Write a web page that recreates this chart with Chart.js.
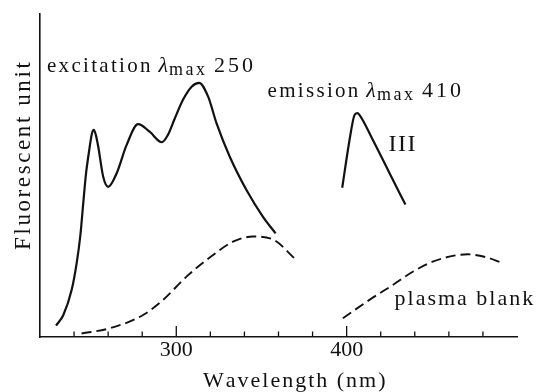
<!DOCTYPE html>
<html>
<head>
<meta charset="utf-8">
<script src="https://cdn.jsdelivr.net/npm/chart.js@4/dist/chart.umd.min.js"></script>
<style>
html, body { margin: 0; padding: 0; background: #fff; }
#wrap { width: 536px; height: 392px; }
</style>
</head>
<body>
<div id="wrap"><canvas id="spectra"></canvas></div>
<script>
'use strict';
// wavelength (nm) / relative intensity
const excX = [229.4, 233.7, 238.6, 241.5, 243.7, 245.4, 247.0, 248.8, 250.4, 251.6, 252.8, 254.2, 257.1, 260.0, 265.0, 270.8, 277.6, 284.5, 291.5, 295.0, 299.0, 304.0, 309.0, 313.4, 318.7, 323.6, 331.4, 341.2, 350.9, 358.3]
const excY = [3.5, 6.8, 14.6, 22.8, 31.5, 41.5, 50.5, 57.5, 62.8, 64.1, 62.5, 58.9, 49.6, 46.5, 50.7, 59.4, 65.9, 63.5, 60.3, 62.5, 67.5, 73.5, 77.5, 78.7, 74.4, 66.2, 55.8, 45.5, 37.2, 32.1]

const emX = [397.4, 401.7, 404.6, 406.2, 407.6, 415.4, 425.2, 434.5]
const emY = [46.2, 61.0, 68.7, 69.3, 68.7, 61.0, 50.7, 41.0]

const blankExX = [244.4, 261.0, 280.5, 292.3, 306.0, 321.6, 333.3, 345.0, 356.7, 369.9]
const blankExY = [1.1, 2.7, 6.8, 11.5, 18.7, 25.4, 29.5, 31.1, 30.2, 24.1]

const blankEmX = [397.8, 413.4, 427.1, 438.8, 450.5, 462.3, 471.1, 481.8, 490.6]
const blankEmY = [5.8, 11.5, 16.1, 20.2, 23.3, 25.1, 25.6, 24.7, 23.1]

const TICK_LABELS = [300, 400]
const XMIN = 220, XMAX = 500

const SERIF = '"Liberation Serif", "Times New Roman", "DejaVu Serif", serif'
const INK = '#111'

function pts(xs, ys){
    return xs.map(function (x, i) { return {x: x, y: ys[i]} })
}

// canvas text with extra space between letters
function spaced(ctx, text, x, y, gap){
    for (const ch of text){
        ctx.fillText(ch, x, y)
        x += ctx.measureText(ch).width + gap
    }
    return x - gap
}

const labels = {
    id: 'labels',
    afterDraw(chart){
        const ctx = chart.ctx
        const xs = chart.scales.x, ys = chart.scales.y
        const area = chart.chartArea
        ctx.save()
        ctx.fillStyle = INK
        ctx.strokeStyle = INK

        // tick marks point into the plot
        ctx.lineWidth = 1.3
        xs.ticks.forEach(function (t) {
            if (t.value <= XMIN || t.value >= XMAX) return
            const px = xs.getPixelForValue(t.value)
            const len = TICK_LABELS.includes(t.value) ? 11 : 5.5
            ctx.beginPath()
            ctx.moveTo(px, area.bottom)
            ctx.lineTo(px, area.bottom - len)
            ctx.stroke()
        })

        ctx.textAlign = 'left'
        ctx.textBaseline = 'alphabetic'

        function lmax(word, peak, x, y){
            let px = xs.getPixelForValue(x)
            const py = ys.getPixelForValue(y)
            ctx.font = '21px ' + SERIF
            px = spaced(ctx, word, px, py, 2.3) + 8
            ctx.font = 'italic 22px ' + SERIF
            px = spaced(ctx, 'λ', px, py, 0) + 1
            ctx.font = '18px ' + SERIF
            px = spaced(ctx, 'max', px, py + 3, 2.5) + 9
            ctx.font = '22px ' + SERIF
            spaced(ctx, peak, px, py, 3)
        }
        lmax('excitation', '250', 224.1, 82.0)
        lmax('emission', '410', 353.6, 74.2)

        ctx.font = '24px ' + SERIF
        spaced(ctx, 'III', xs.getPixelForValue(424.6), ys.getPixelForValue(57.6), 1.5)

        ctx.font = '22px ' + SERIF
        spaced(ctx, 'plasma blank', xs.getPixelForValue(428.1), ys.getPixelForValue(9.9), 2)

        // axis titles
        ctx.font = '22px ' + SERIF
        spaced(ctx, 'Wavelength (nm)', 203, 387, 2)

        ctx.translate(30, 250)
        ctx.rotate(-Math.PI / 2)
        ctx.font = '23px ' + SERIF
        spaced(ctx, 'Fluorescent unit', 0, 0, 2.6)
        ctx.restore()
    }
}

function curve(xs, ys, dashed){
    return {
        data: pts(xs, ys),
        showLine: true,
        borderColor: INK,
        borderWidth: dashed ? 1.9 : 2.2,
        borderDash: dashed ? [10, 5] : [],
        pointRadius: 0,
        cubicInterpolationMode: 'monotone',
        fill: false
    }
}

const ctx = document.getElementById('spectra').getContext('2d')
const chart = new Chart(ctx, {
    type: 'scatter',
    data: {
        datasets: [
            curve(excX, excY, false),
            curve(emX, emY, false),
            curve(blankExX, blankExY, true),
            curve(blankEmX, blankEmY, true)
        ]
    },
    options: {
        responsive: true,
        maintainAspectRatio: false,
        animation: false,
        layout: { padding: { top: 14, right: 19, left: 0, bottom: 0 } },
        plugins: {
            legend: { display: false },
            tooltip: { enabled: false }
        },
        scales: {
            x: {
                type: 'linear',
                min: XMIN,
                max: XMAX,
                afterFit: function (scale) { scale.height = 55 },
                border: { display: true, color: INK, width: 1.6 },
                grid: { display: false, drawTicks: false },
                ticks: {
                    stepSize: 20,
                    autoSkip: false,
                    maxRotation: 0,
                    padding: 0,
                    color: INK,
                    font: { family: SERIF, size: 22 },
                    callback: function (v) { return TICK_LABELS.includes(v) ? String(v) : '' }
                }
            },
            y: {
                min: 0,
                max: 100,
                afterFit: function (scale) { scale.width = 40 },
                border: { display: true, color: INK, width: 1.6 },
                grid: { display: false, drawTicks: false },
                ticks: { display: false }
            }
        }
    },
    plugins: [labels]
})
</script>
</body>
</html>
